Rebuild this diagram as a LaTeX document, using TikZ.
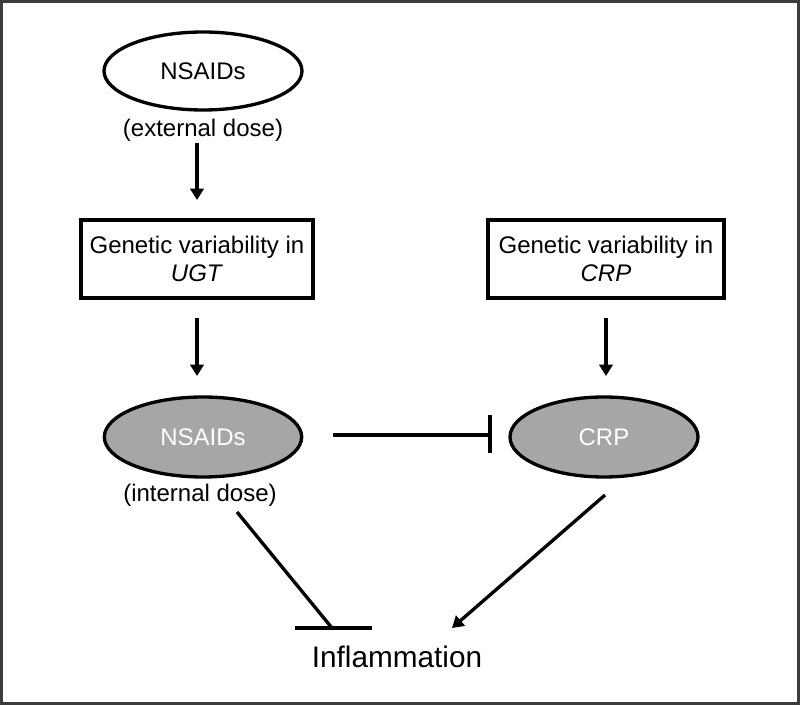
\documentclass[tikz,border=0pt]{standalone}
\usepackage{fontspec}
\setmainfont{Liberation Sans}
\usetikzlibrary{shapes.geometric,arrows.meta}
\definecolor{fillgray}{RGB}{166,166,166}
\definecolor{framegray}{RGB}{60,60,60}
\tikzset{
  lw/.style={line width=2.5pt},
  arr/.style={lw,-{Triangle[length=8.5pt,width=10pt]}},
  inh/.style={lw},
  ellwhite/.style={ellipse,draw,lw,fill=white,inner sep=0pt,font=\fontsize{18}{21.6}\selectfont},
  ellgray/.style={ellipse,draw,lw,fill=fillgray,text=white,inner sep=0pt,font=\fontsize{18}{21.6}\selectfont},
  genebox/.style={rectangle,draw,lw,align=center,inner sep=0pt,minimum height=58.5pt,font=\fontsize{18}{21}\selectfont},
  lbl/.style={inner sep=0pt,font=\fontsize{18}{21.6}\selectfont}
}
\begin{document}
\begin{tikzpicture}[x=0.75pt,y=-0.75pt]
\useasboundingbox (0,0) rectangle (800,705);
\draw[framegray,line width=2.4pt] (1.5,1.5) rectangle (798.5,703.5);

\node[ellwhite,minimum width=148.5pt,minimum height=58.5pt] (ns1) at (203,71) {NSAIDs};
\node[lbl] (ext) at (203,130) {(external dose)};

\node[genebox,minimum width=174pt] (ugt) at (197,259) {Genetic variability in\\\textit{UGT}};
\node[genebox,minimum width=177pt] (crpg) at (606,259) {Genetic variability in\\\textit{CRP}};

\node[ellgray,minimum width=148pt,minimum height=60pt] (ns2) at (203,437) {NSAIDs};
\node[lbl] (int) at (200,495) {(internal dose)};
\node[ellgray,minimum width=141pt,minimum height=60pt] (crp) at (604,437) {CRP};

\node[inner sep=0pt,font=\fontsize{22.3}{26}\selectfont] (inf) at (397,657) {Inflammation};

% connectors
\coordinate (a1) at (197,143);
\coordinate (a1e) at (197,200);
\draw[arr] (a1) -- (a1e);

\coordinate (a2) at (197,318);
\coordinate (a2e) at (197,376);
\draw[arr] (a2) -- (a2e);

\coordinate (a3) at (606,318);
\coordinate (a3e) at (606,376);
\draw[arr] (a3) -- (a3e);

% NSAIDs -| CRP
\coordinate (i1) at (333,435);
\coordinate (i1e) at (490,435);
\draw[inh] (i1) -- (i1e);
\draw[inh] (490,415) -- (490,453);

% internal dose -| inflammation
\coordinate (i2) at (237,512);
\coordinate (i2e) at (332,628);
\draw[inh] (i2) -- (i2e);
\draw[inh] (295,628) -- (372,628);

% CRP -> inflammation
\coordinate (a4) at (605,495);
\coordinate (a4e) at (452,628);
\draw[arr] (a4) -- (a4e);
\end{tikzpicture}
\end{document}
